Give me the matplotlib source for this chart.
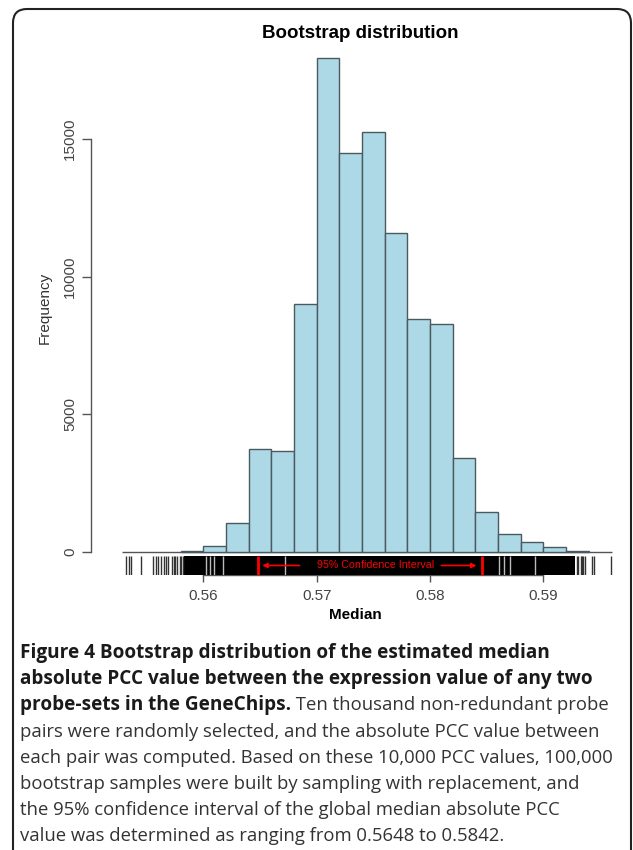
import matplotlib
matplotlib.use("Agg")
import matplotlib.pyplot as plt
import numpy as np
from matplotlib.patches import FancyBboxPatch
from matplotlib.transforms import IdentityTransform

# histogram of bootstrap medians (bin width 0.002)
bin_starts = [0.558, 0.560, 0.562, 0.564, 0.566, 0.568, 0.570, 0.572, 0.574,
              0.576, 0.578, 0.580, 0.582, 0.584, 0.586, 0.588, 0.590, 0.592]
counts = [50, 230, 1040, 3740, 3670, 9010, 17950, 14490, 15260,
          11590, 8460, 8280, 3420, 1460, 660, 370, 170, 40]
bin_width = 0.002

# rug of bootstrap medians: sparse tails, dense black block, light gaps inside it
rug_left = [0.5532, 0.5534, 0.5536, 0.5545, 0.5556, 0.5558, 0.5560, 0.5563,
            0.5565, 0.5567, 0.5569, 0.5572, 0.5574, 0.5575, 0.5577, 0.5579,
            0.5580, 0.5582]
rug_dense = (0.5583, 0.5928)
rug_gaps = [0.5602, 0.5606, 0.5609, 0.5617, 0.5672, 0.5861, 0.5865, 0.5871, 0.5893]
rug_right = [0.5930, 0.5931, 0.5933, 0.5934, 0.5935, 0.5937, 0.5943, 0.5945, 0.5960]

ci_low, ci_high = 0.5648, 0.5846

xticks = [0.56, 0.57, 0.58, 0.59]
yticks = [0, 5000, 10000, 15000]

caption = [
    [("Figure 4 Bootstrap distribution of the estimated median", "bold")],
    [("absolute PCC value between the expression value of any two", "bold")],
    [("probe-sets in the GeneChips.", "bold"), (" Ten thousand non-redundant probe", "normal")],
    [("pairs were randomly selected, and the absolute PCC value between", "normal")],
    [("each pair was computed. Based on these 10,000 PCC values, 100,000", "normal")],
    [("bootstrap samples were built by sampling with replacement, and", "normal")],
    [("the 95% confidence interval of the global median absolute PCC", "normal")],
    [("value was determined as ranging from 0.5648 to 0.5842.", "normal")],
]

plt.rcParams['font.family'] = ['Liberation Sans', 'DejaVu Sans']

fig = plt.figure(figsize=(6.33, 8.5), dpi=100)
ax = fig.add_axes([91 / 633, 1 - 575 / 850, 529 / 633, 535 / 850])

gray = "#555555"
ax.bar(bin_starts, counts, width=bin_width, align="edge",
       color="#add8e6", edgecolor="#4a5a60", linewidth=1.0, zorder=2)
ax.hlines(0, 0.5528, 0.5961, color=gray, linewidth=1.0, zorder=1)

band_lo, band_hi = -836, -145
ax.fill_between(rug_dense, band_lo, band_hi, color="black", linewidth=0, zorder=3)
ax.vlines(rug_left + rug_right, band_lo, band_hi, color="#333333", linewidth=1.0, zorder=3)
ax.vlines(rug_gaps, band_lo, band_hi, color="#bbbbbb", linewidth=1.0, zorder=4)
ax.vlines([ci_low, ci_high], band_lo, band_hi, color="red", linewidth=2.0, zorder=5)

band_mid = (band_lo + band_hi) / 2
ax.annotate("", xy=(ci_low + 0.0004, band_mid), xytext=(0.5685, band_mid),
            arrowprops=dict(arrowstyle="-|>", color="red", lw=1.2,
                            mutation_scale=7, shrinkA=0, shrinkB=0), zorder=5)
ax.annotate("", xy=(ci_high - 0.0005, band_mid), xytext=(0.5810, band_mid),
            arrowprops=dict(arrowstyle="-|>", color="red", lw=1.2,
                            mutation_scale=7, shrinkA=0, shrinkB=0), zorder=5)
ax.text((ci_low + ci_high) / 2 + 0.0005, band_mid, "95% Confidence Interval",
        color="red", fontsize=7.7, ha="center", va="center", zorder=5)

ax.set_xlim(0.550091, 0.596768)
ax.set_ylim(-836, 18600)

for s in ["top", "right"]:
    ax.spines[s].set_visible(False)
ax.spines["left"].set_bounds(0, 15000)
ax.spines["bottom"].set_bounds(0.56, 0.59)
for s in ["left", "bottom"]:
    ax.spines[s].set_color(gray)
    ax.spines[s].set_linewidth(1.0)

ax.set_xticks(xticks)
ax.set_xticklabels([f"{t:.2f}" for t in xticks])
ax.set_yticks(yticks)
ax.set_yticklabels([str(t) for t in yticks], rotation=90, va="center")
ax.tick_params(axis="x", length=5, width=1, color=gray, labelsize=11,
               labelcolor="#444444", pad=5)
ax.tick_params(axis="y", length=6.5, width=1, color=gray, labelsize=11,
               labelcolor="#444444", pad=3.5)

ax.set_xlabel("Median", fontsize=11, fontweight="bold", labelpad=4)
ax.set_ylabel("Frequency", fontsize=11, color="#333333", labelpad=8)
fig.text(360 / 633, 1 - 33 / 850, "Bootstrap distribution", fontsize=13.5,
         fontweight="bold", ha="center", va="center")

# caption below the chart
renderer = fig.canvas.get_renderer()
sizes = {"bold": 13.7, "normal": 13.3}
colors = {"bold": "#1a1a1a", "normal": "#333333"}
y0, dy = 653, 26.2
for i, parts in enumerate(caption):
    prev = None
    for txt, weight in parts:
        t = fig.text(20 / 633, 1 - (y0 + i * dy) / 850, txt, fontsize=sizes[weight],
                     fontweight=weight, family=["Open Sans", "DejaVu Sans"],
                     color=colors[weight], ha="left", va="center")
        if prev is not None:
            bb = prev.get_window_extent(renderer)
            t.set_transform(IdentityTransform())
            t.set_position((bb.x1, (bb.y0 + bb.y1) / 2))
        prev = t

border = FancyBboxPatch((13, -60), 618, 841 + 60, boxstyle="round,pad=0,rounding_size=14",
                        transform=IdentityTransform(), fill=False,
                        edgecolor="#222222", linewidth=1.5)
fig.patches.append(border)

fig.savefig("out.png", dpi=100)
